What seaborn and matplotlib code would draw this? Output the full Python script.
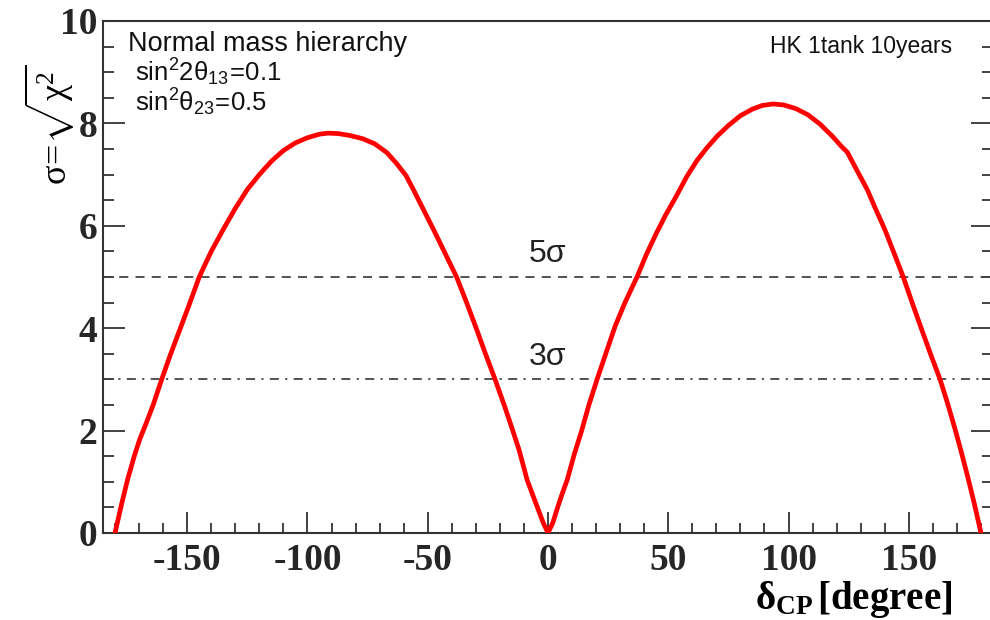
import matplotlib
matplotlib.use("Agg")
import matplotlib.pyplot as plt
import seaborn as sns
import pandas as pd
import numpy as np

# ---- data ----
delta_cp = [-180, -177.5, -174.8, -172, -169.8, -167, -164, -160.6, -157, -153, -149, -145,
            -140, -135, -130, -125, -120, -115, -110, -105, -100, -95, -91.5, -87, -82,
            -77, -72, -67, -63, -59, -56, -53, -50, -47, -44, -41, -38, -34, -30, -26,
            -22, -18, -15, -12, -8.7, -6, -4, -2, 0,
            2, 4, 6, 8, 11, 14, 17, 20.4, 24, 28, 32, 37, 41, 45, 49, 53, 57.8, 62, 66,
            70.3, 75, 80, 85, 89, 93.6, 98, 103, 108, 113, 118, 122, 124.4, 128, 132.7,
            136, 140, 144, 147.7, 151, 155, 159, 163, 166, 169.4, 172, 174.8, 177.5, 180]
sigma = [0, 0.52, 1.04, 1.5, 1.82, 2.15, 2.52, 3.0, 3.48, 3.98, 4.48, 5.0,
         5.5, 5.93, 6.34, 6.71, 7.0, 7.26, 7.47, 7.62, 7.72, 7.79, 7.81, 7.80, 7.76,
         7.70, 7.60, 7.43, 7.22, 6.98, 6.71, 6.43, 6.15, 5.87, 5.58, 5.29, 5.0, 4.52, 4.02, 3.5,
         3.0, 2.47, 2.05, 1.62, 1.04, 0.7, 0.45, 0.2, 0,
         0.2, 0.5, 0.78, 1.04, 1.55, 2.0, 2.5, 3.0, 3.5, 4.05, 4.5, 5.0, 5.45, 5.85, 6.22, 6.55, 6.97, 7.28, 7.52,
         7.75, 7.96, 8.15, 8.28, 8.35, 8.38, 8.36, 8.29, 8.17, 7.99, 7.76, 7.55, 7.44, 7.12, 6.71,
         6.35, 5.93, 5.45, 5.0, 4.55, 4.02, 3.5, 3.0, 2.55, 2.0, 1.55, 1.04, 0.52, 0]
level_values = [5, 3]
level_labels = ["5σ", "3σ"]
xticks = [-150, -100, -50, 0, 50, 100, 150]
yticks = [0, 2, 4, 6, 8, 10]
info_lines = ["Normal mass hierarchy",
              r"$\mathsf{sin^{2}2θ_{13}\!=\!0.1}$",
              r"$\mathsf{sin^{2}θ_{23}\!=\!0.5}$"]
exp_label = "HK 1tank 10years"

df = pd.DataFrame({"delta_cp": delta_cp, "sigma": sigma})

sns.set_style("ticks")
plt.rcParams["font.family"] = ["Liberation Sans", "DejaVu Sans"]
plt.rcParams["mathtext.fontset"] = "custom"
plt.rcParams["mathtext.rm"] = "Liberation Serif"
plt.rcParams["mathtext.it"] = "Liberation Serif:italic"
plt.rcParams["mathtext.bf"] = "Liberation Serif:bold"
plt.rcParams["mathtext.sf"] = "Liberation Sans"

W, H = 990, 620
fig = plt.figure(figsize=(W / 100, H / 100), dpi=100)
fig.patch.set_facecolor("white")
ax = fig.add_axes([103 / W, (H - 533) / H, 890 / W, 512 / H])
ax.set_facecolor("white")

sns.lineplot(data=df, x="delta_cp", y="sigma", ax=ax, color="#ff0000", lw=3.4,
             sort=False, estimator=None, zorder=3)
ax.lines[-1].set_solid_joinstyle("round")

styles = [(0, (5, 4)), (0, (5, 3.5, 1.2, 3.5))]
for v, lab, st in zip(level_values, level_labels, styles):
    ax.axhline(v, color="#444444", lw=1.3, ls=st, zorder=2)
    ax.text(0, v + 0.44, lab, ha="center", va="center", fontsize=23,
            color="#222222", family=["Liberation Sans", "DejaVu Sans"])

ax.set_xlim(-185, 185)
ax.set_ylim(0, 10)
ax.set_xticks(xticks)
ax.set_yticks(yticks)
ax.set_xticks(np.arange(-180, 181, 10), minor=True)
ax.set_yticks(np.arange(0, 10.01, 0.5), minor=True)
ax.set_xticklabels([str(t) for t in xticks])
ax.set_yticklabels([str(t) for t in yticks])
ax.set_xlabel("")
ax.set_ylabel("")

for lab in ax.get_xticklabels() + ax.get_yticklabels():
    lab.set_family(["Liberation Serif", "DejaVu Serif"])
    lab.set_fontweight("bold")
    lab.set_fontsize(27)

ax.tick_params(axis="both", which="both", direction="in", color="#222222")
ax.tick_params(axis="x", which="major", length=15, width=1.2, pad=7, top=False, bottom=True)
ax.tick_params(axis="x", which="minor", length=7.5, width=1.2, top=False, bottom=True)
ax.tick_params(axis="y", which="major", length=16, width=1.2, pad=4, left=True, right=True)
ax.tick_params(axis="y", which="minor", length=8, width=1.2, left=True, right=True)

for sp in ax.spines.values():
    sp.set_visible(True)
    sp.set_color("#333333")
    sp.set_linewidth(1.5)

# annotations
fig.text(128 / W, 1 - 44 / H, info_lines[0], fontsize=19.5, ha="left", va="center", color="#111111")
fig.text(135 / W, 1 - 72 / H, info_lines[1], fontsize=18.5, ha="left", va="center", color="#111111")
fig.text(135 / W, 1 - 102 / H, info_lines[2], fontsize=18.5, ha="left", va="center", color="#111111")
fig.text(952 / W, 1 - 46 / H, exp_label, fontsize=16.5, ha="right", va="center", color="#111111")

fig.text(952 / W, 1 - 600 / H, r"$\mathbf{δ_{CP}}$$\mathbf{\,[degree]}$", fontsize=28,
         ha="right", va="center", color="black")
fig.text(50 / W, 1 - 125 / H, r"$\mathrm{σ\!=\!\sqrt{χ^{2}}}$", fontsize=26, rotation=90,
         ha="center", va="center", color="black")

fig.savefig("out.png", dpi=100, facecolor="white")
